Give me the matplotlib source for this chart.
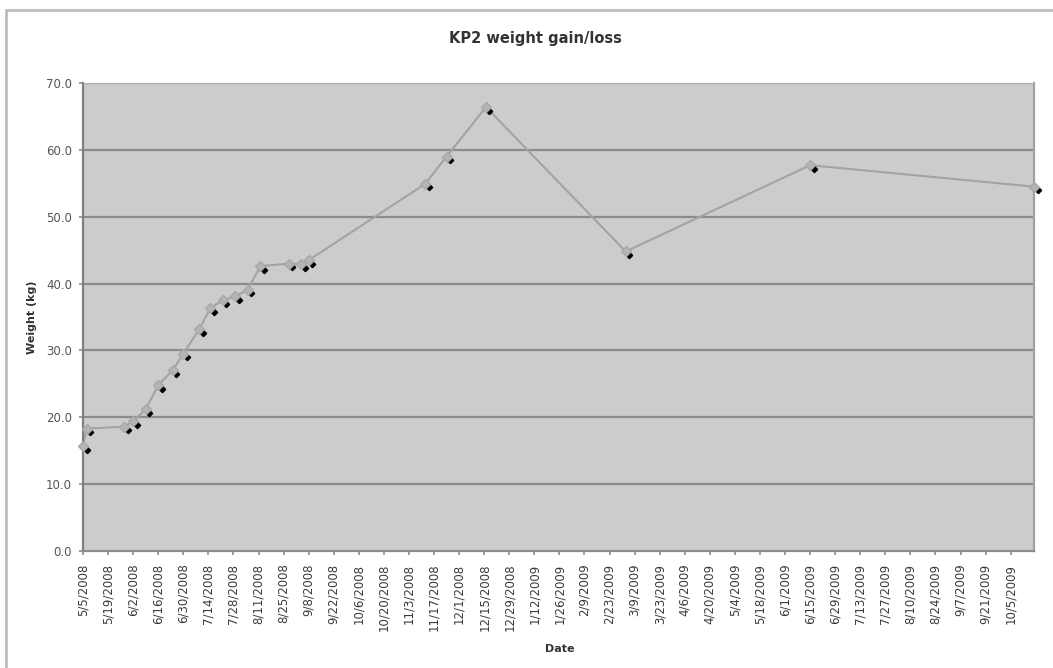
import matplotlib
matplotlib.use('Agg')
import matplotlib.pyplot as plt
import matplotlib.transforms as mtransforms
from matplotlib.patches import Rectangle
import pandas as pd

# data
dates = ['2008-05-05', '2008-05-07', '2008-05-28', '2008-06-02', '2008-06-09',
         '2008-06-16', '2008-06-24', '2008-06-30', '2008-07-09', '2008-07-15',
         '2008-07-22', '2008-07-29', '2008-08-05', '2008-08-12', '2008-08-28',
         '2008-09-04', '2008-09-08', '2008-11-12', '2008-11-24', '2008-12-16',
         '2009-03-04', '2009-06-15', '2009-10-18']
weights = [15.7, 18.3, 18.6, 19.4, 21.2, 24.8, 27.0, 29.5, 33.2, 36.3,
           37.5, 38.1, 39.1, 42.6, 43.0, 42.9, 43.5, 54.9, 59.0, 66.4,
           44.8, 57.7, 54.5]
tick_start = '2008-05-05'
tick_end = '2009-10-05'
tick_step_days = 14
y_ticks = [0, 10, 20, 30, 40, 50, 60, 70]

x = pd.to_datetime(dates)
ticks = pd.date_range(tick_start, tick_end, freq=f'{tick_step_days}D')

fig = plt.figure(figsize=(10.53, 6.68), dpi=100)
ax = fig.add_axes([83/1053, 1-551/668, (1034-83)/1053, (551-83)/668])
ax.set_facecolor('#cccccc')

# outer chart border
fig.patches.append(Rectangle((6/1053, -0.05), 1.1, 1-10/668+0.05, transform=fig.transFigure,
                             fill=False, edgecolor='#bdbdbd', linewidth=2, zorder=0))

for yv in y_ticks[1:]:
    ax.axhline(yv, color='#8c8c8c', linewidth=1.6, zorder=1)

ax.plot(x, weights, color='#a3a3a3', linewidth=1.5, zorder=2, clip_on=False)
shadow = mtransforms.offset_copy(ax.transData, fig=fig, x=3.5, y=-3.5, units='dots')
ax.plot(x, weights, linestyle='none', marker='D', markersize=3.2, color='black',
        transform=shadow, zorder=3, clip_on=False)
ax.plot(x, weights, linestyle='none', marker='D', markersize=5.5, color='#b4b4b4',
        markeredgecolor='#a8a8a8', zorder=4, clip_on=False)

ax.set_xlim(x[0], x[-1])
ax.set_ylim(0, 70)
ax.set_yticks(y_ticks)
ax.set_yticklabels([f'{v:.1f}' for v in y_ticks])
ax.set_xticks(ticks)
ax.set_xticklabels([f'{d.month}/{d.day}/{d.year}' for d in ticks], rotation=90)

ax.tick_params(axis='x', labelsize=8.5, colors='#8c8c8c', labelcolor='#3a3a3a', length=3, width=1.2, pad=6)
ax.tick_params(axis='y', labelsize=8.5, colors='#8c8c8c', labelcolor='#555555', length=3, width=1.2, pad=5)

ax.spines['left'].set_color('#808080')
ax.spines['left'].set_linewidth(1.6)
ax.spines['bottom'].set_color('#8c8c8c')
ax.spines['bottom'].set_linewidth(1.6)
ax.spines['top'].set_color('#b0b0b0')
ax.spines['right'].set_color('#a0a0a0')
ax.spines['right'].set_linewidth(1.6)

fig.text(535/1053, 1-38/668, 'KP2 weight gain/loss', ha='center', va='center',
         fontsize=10.5, fontweight='bold', color='#333333')
fig.text(32/1053, 1-317/668, 'Weight (kg)', ha='center', va='center', rotation=90,
         fontsize=8, fontweight='bold', color='#333333')
fig.text(560/1053, 1-649/668, 'Date', ha='center', va='center',
         fontsize=8, fontweight='bold', color='#333333')

fig.savefig('out.png', dpi=100)
